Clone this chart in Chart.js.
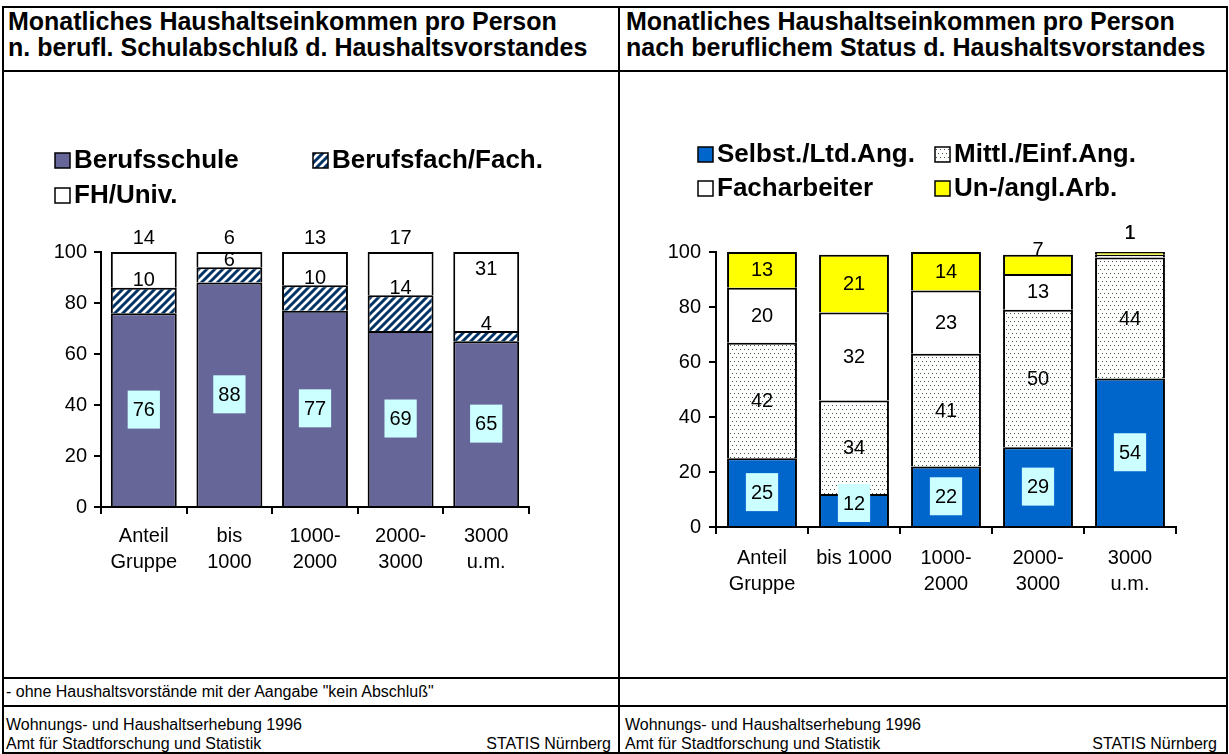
<!DOCTYPE html>
<html>
<head>
<meta charset="utf-8">
<script src="https://cdn.jsdelivr.net/npm/chart.js@4"></script>
<style>
  body { margin:0; background:#fff; font-family:"Liberation Sans", Arial, sans-serif; }
  #page { position:relative; width:1229px; height:754px; overflow:hidden; }
  .ln { position:absolute; background:#000; }
  .txt { position:absolute; color:#000; white-space:nowrap; }
  .title { font-weight:bold; font-size:25px; line-height:26px; }
  .small { font-size:16px; line-height:19px; }
  canvas { position:absolute; }
</style>
</head>
<body>
<div id="page">
  <!-- frame -->
  <div class="ln" style="left:2px;top:6px;width:1226px;height:2px"></div>
  <div class="ln" style="left:2px;top:70px;width:1226px;height:2px"></div>
  <div class="ln" style="left:2px;top:677px;width:1226px;height:2px"></div>
  <div class="ln" style="left:2px;top:705px;width:1226px;height:2px"></div>
  <div class="ln" style="left:2px;top:752px;width:1226px;height:2px"></div>
  <div class="ln" style="left:2px;top:6px;width:2px;height:748px"></div>
  <div class="ln" style="left:618px;top:6px;width:2px;height:748px"></div>
  <div class="ln" style="left:1226px;top:6px;width:2px;height:748px"></div>

  <div class="txt title" style="left:8px;top:8px">Monatliches Haushaltseinkommen pro Person<br>n. berufl. Schulabschluß d. Haushaltsvorstandes</div>
  <div class="txt title" style="left:626px;top:8px">Monatliches Haushaltseinkommen pro Person<br>nach beruflichem Status d. Haushaltsvorstandes</div>

  <canvas id="left" width="614" height="605" style="left:4px;top:72px"></canvas>
  <canvas id="right" width="604" height="605" style="left:621px;top:72px"></canvas>

  <div class="txt small" style="left:6px;top:682px">- ohne Haushaltsvorstände mit der Aangabe "kein Abschluß"</div>
  <div class="txt small" style="left:6px;top:715px">Wohnungs- und Haushaltserhebung 1996<br>Amt für Stadtforschung und Statistik</div>
  <div class="txt small" style="right:618px;top:734px">STATIS Nürnberg</div>
  <div class="txt small" style="left:625px;top:715px">Wohnungs- und Haushaltserhebung 1996<br>Amt für Stadtforschung und Statistik</div>
  <div class="txt small" style="right:12px;top:734px">STATIS Nürnberg</div>
</div>

<script>
// values (percent)
const categoriesLeft  = [["Anteil","Gruppe"], ["bis","1000"], ["1000-","2000"], ["2000-","3000"], ["3000","u.m."]];
const categoriesRight = [["Anteil","Gruppe"], "bis 1000", ["1000-","2000"], ["2000-","3000"], ["3000","u.m."]];

const berufsschule = [76, 88, 77, 69, 65];
const berufsfach   = [10, 6, 10, 14, 4];
const fhUniv       = [14, 6, 13, 17, 31];

const selbstLtd    = [25, 12, 22, 29, 54];
const mittlEinf    = [42, 34, 41, 50, 44];
const facharbeiter = [20, 32, 23, 13, 1];
const ungelernt    = [13, 21, 14, 7, 1];

const yTicks = [0, 20, 40, 60, 80, 100];

const FONT = '"Liberation Sans", Arial, sans-serif';

// legend slots in canvas pixels (box left, row middle)
const legendSlots = {
  left:  [[51, 88], [309, 88], [51, 123]],
  right: [[77, 82], [314, 82], [77, 116], [314, 116]]
};

function hatch(ctx) {
  const c = document.createElement('canvas');
  c.width = 8; c.height = 8;
  const g = c.getContext('2d');
  g.fillStyle = '#fff';
  g.fillRect(0, 0, 8, 8);
  g.strokeStyle = '#003366';
  g.lineWidth = 3;
  g.beginPath();
  for (let k = -8; k <= 8; k += 8) { g.moveTo(k - 1, 9); g.lineTo(k + 9, -1); }
  g.stroke();
  return ctx.createPattern(c, 'repeat');
}

function dots(ctx) {
  const c = document.createElement('canvas');
  c.width = 8; c.height = 8;
  const g = c.getContext('2d');
  g.fillStyle = '#fff';
  g.fillRect(0, 0, 8, 8);
  g.fillStyle = '#3d5e3d';
  g.fillRect(1, 1, 1, 1); g.fillRect(5, 1, 1, 1);
  g.fillRect(3, 5, 1, 1); g.fillRect(7, 5, 1, 1);
  return ctx.createPattern(c, 'repeat');
}

// numbers on the segments, placed roughly like the Excel original
const valueLabels = {
  id: 'valueLabels',
  afterDatasetsDraw(chart) {
    const ctx = chart.ctx;
    ctx.save();
    ctx.font = '20px ' + FONT;
    ctx.textAlign = 'center';
    ctx.textBaseline = 'middle';
    chart.data.labels.forEach((lab, i) => {
      let stackTop = Infinity;
      chart.data.datasets.forEach((ds, d) => {
        stackTop = Math.min(stackTop, chart.getDatasetMeta(d).data[i].y);
      });
      chart.data.datasets.forEach((ds, d) => {
        const el = chart.getDatasetMeta(d).data[i];
        const v = ds.data[i];
        const txt = String(v);
        let y = (el.y + el.base) / 2;
        if (ds.labelMode === 'box') {
          const w = ctx.measureText(txt).width + 10, h = 38;
          y = Math.min(y, el.base - 4 - h / 2);
          ctx.fillStyle = '#ccffff';
          ctx.fillRect(el.x - w / 2, y - h / 2, w, h);
        } else if (ds.labelMode === 'edge') {
          y = el.y - 8;
        } else if (ds.labelMode === 'above') {
          y = v > 25 ? el.y + 16 : el.y - 15;
        } else if (v < 10) {
          y = stackTop - (v < 5 ? 20 : 5);
        }
        ctx.fillStyle = '#000';
        ctx.fillText(txt, el.x, y + 1);
      });
    });
    ctx.restore();
  }
};

const boxLegend = {
  id: 'boxLegend',
  afterDraw(chart) {
    const ctx = chart.ctx;
    const slots = legendSlots[chart.canvas.id];
    ctx.save();
    ctx.font = 'bold 26px ' + FONT;
    ctx.textBaseline = 'middle';
    ctx.textAlign = 'left';
    chart.data.datasets.forEach((ds, d) => {
      const x = slots[d][0], y = slots[d][1];
      ctx.fillStyle = ds.backgroundColor;
      ctx.fillRect(x, y - 7, 15, 15);
      ctx.strokeStyle = '#000';
      ctx.lineWidth = 1.5;
      ctx.strokeRect(x, y - 7, 15, 15);
      ctx.fillStyle = '#000';
      ctx.fillText(ds.label, x + 19, y + 1);
    });
    ctx.restore();
  }
};

function makeChart(id, labels, datasets, g) {
  const ctx = document.getElementById(id).getContext('2d');
  return new Chart(ctx, {
    type: 'bar',
    data: { labels: labels, datasets: datasets(ctx) },
    options: {
      responsive: false,
      animation: false,
      events: [],
      layout: { padding: { top: 180, right: g.padRight, left: 0, bottom: 0 } },
      plugins: { legend: { display: false }, tooltip: { enabled: false } },
      datasets: { bar: { categoryPercentage: 1, barPercentage: g.barPct, borderColor: '#000', borderWidth: 2 } },
      scales: {
        x: {
          stacked: true,
          grid: { offset: true, drawOnChartArea: false, color: '#000', lineWidth: 2, tickLength: 7 },
          border: { color: '#000', width: 2 },
          ticks: { color: '#000', font: { family: FONT, size: 20, lineHeight: 1.3 }, padding: g.xPad, maxRotation: 0, autoSkip: false },
          afterFit(s) { s.height = g.xHeight; }
        },
        y: {
          stacked: true,
          min: yTicks[0],
          max: yTicks[yTicks.length - 1],
          grid: { drawOnChartArea: false, color: '#000', lineWidth: 2, tickLength: 7 },
          border: { color: '#000', width: 2 },
          ticks: { stepSize: yTicks[1] - yTicks[0], color: '#000', font: { family: FONT, size: 20 }, padding: g.yPad },
          afterFit(s) { s.width = g.yWidth; }
        }
      }
    },
    plugins: [valueLabels, boxLegend]
  });
}

makeChart('left', categoriesLeft, ctx => [
  { label: 'Berufsschule', data: berufsschule, backgroundColor: '#666699', labelMode: 'box' },
  { label: 'Berufsfach/Fach.', data: berufsfach, backgroundColor: hatch(ctx), labelMode: 'edge' },
  { label: 'FH/Univ.', data: fhUniv, backgroundColor: '#ffffff', labelMode: 'above' }
], { padRight: 89, xHeight: 170, yWidth: 97, barPct: 0.77, xPad: 9, yPad: 7 });

makeChart('right', categoriesRight, ctx => [
  { label: 'Selbst./Ltd.Ang.', data: selbstLtd, backgroundColor: '#0066cc', labelMode: 'box' },
  { label: 'Mittl./Einf.Ang.', data: mittlEinf, backgroundColor: dots(ctx), labelMode: 'center' },
  { label: 'Facharbeiter', data: facharbeiter, backgroundColor: '#ffffff', labelMode: 'center' },
  { label: 'Un-/angl.Arb.', data: ungelernt, backgroundColor: '#ffff00', labelMode: 'center' }
], { padRight: 49, xHeight: 150, yWidth: 95, barPct: 0.76, xPad: 11, yPad: 8 });
</script>
</body>
</html>
